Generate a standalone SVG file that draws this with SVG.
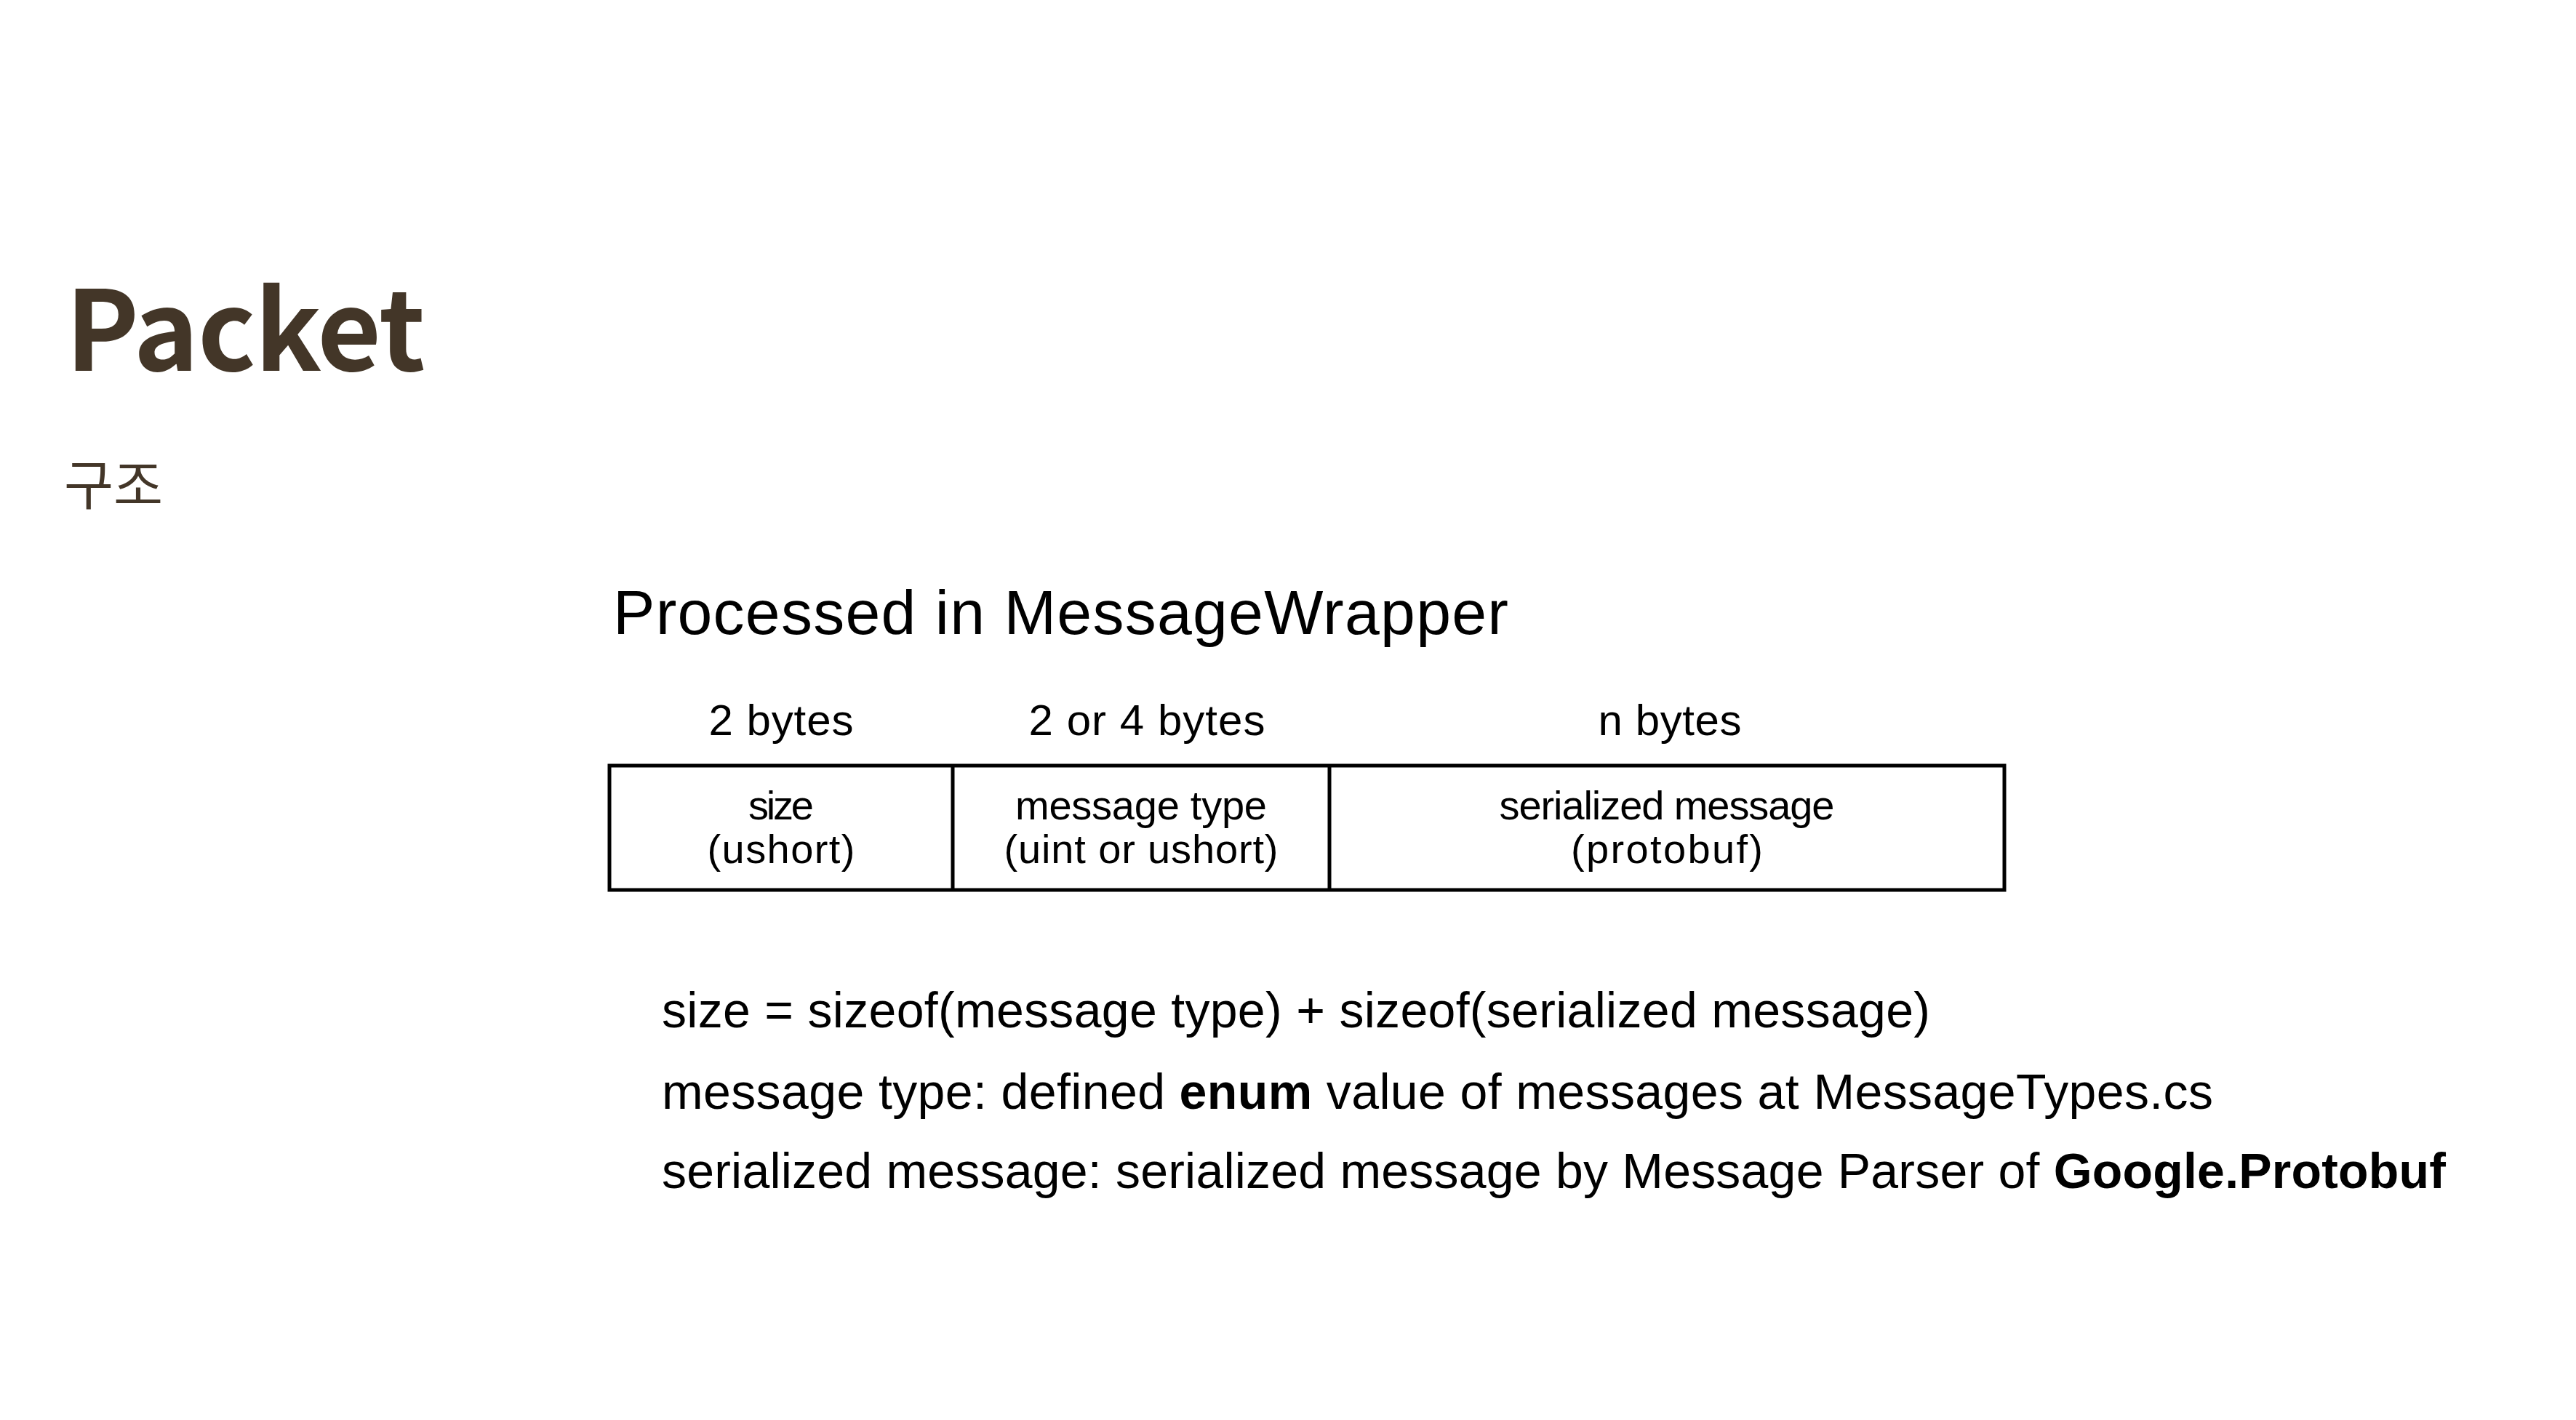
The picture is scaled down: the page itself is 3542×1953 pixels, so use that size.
<svg xmlns="http://www.w3.org/2000/svg" width="3542" height="1953" viewBox="0 0 3542 1953">
  <style>
    .title { font-family: "Noto Sans CJK KR", "Noto Sans", sans-serif; font-weight: 700; fill: #433628; }
    .sub { font-family: "Noto Sans CJK KR", "Noto Sans", sans-serif; font-weight: 400; fill: #433628; }
    .t { font-family: "Liberation Sans", Arial, sans-serif; fill: #000; }
    .hdr { font-size: 60px; text-anchor: middle; }
    .cell { font-size: 56px; text-anchor: middle; }
    .body { font-size: 68px; }
    .b { font-weight: 700; }
    .box { fill: none; stroke: #000; stroke-width: 5; }
  </style>
  <rect width="3542" height="1953" fill="#ffffff"/>
  <g id="heading">
    <text class="title" x="90" y="510" font-size="152" textLength="495">Packet</text>
    <text class="sub" x="88" y="694" font-size="74">구조</text>
  </g>
  <g id="caption">
    <text class="t" x="843" y="872" font-size="86" textLength="1231">Processed in MessageWrapper</text>
  </g>
  <g id="headers">
    <text class="t hdr" x="1074" y="1011" textLength="199">2 bytes</text>
    <text class="t hdr" x="1577" y="1011" textLength="325">2 or 4 bytes</text>
    <text class="t hdr" x="2296" y="1011" textLength="197">n bytes</text>
  </g>
  <g id="packet-table">
    <rect class="box" x="838" y="1053" width="1918" height="171"/>
    <line class="box" x1="1310" y1="1053" x2="1310" y2="1224"/>
    <line class="box" x1="1828" y1="1053" x2="1828" y2="1224"/>
  </g>
  <g id="cell-size">
    <text class="t cell" x="1074" y="1127" textLength="90">size</text>
    <text class="t cell" x="1074" y="1187" textLength="203">(ushort)</text>
  </g>
  <g id="cell-type">
    <text class="t cell" x="1569" y="1127" textLength="346">message type</text>
    <text class="t cell" x="1569" y="1187" textLength="377">(uint or ushort)</text>
  </g>
  <g id="cell-message">
    <text class="t cell" x="2292" y="1127" textLength="461">serialized message</text>
    <text class="t cell" x="2292" y="1187" textLength="264">(protobuf)</text>
  </g>
  <g id="notes">
    <text class="t body" x="910" y="1413" textLength="1744">size = sizeof(message type) + sizeof(serialized message)</text>
    <text class="t body" x="910" y="1525" textLength="2133">message type: defined <tspan class="b">enum</tspan> value of messages at MessageTypes.cs</text>
    <text class="t body" x="910" y="1634" textLength="2453">serialized message: serialized message by Message Parser of <tspan class="b">Google.Protobuf</tspan></text>
  </g>
</svg>
